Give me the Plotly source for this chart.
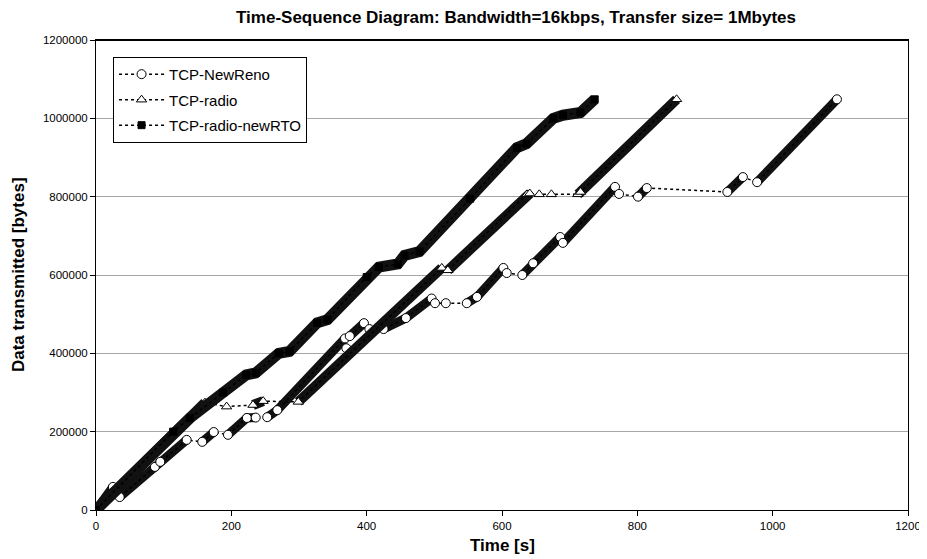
import plotly.graph_objects as go

# values (time in s, data in bytes)
# dense = 1 where the packets form a continuous run up to the next point
newreno_t = [0, 25, 35, 87, 95, 134, 157, 174, 195, 223, 236, 253, 268, 368, 370, 375, 396, 404,
             425, 458, 496, 501, 517, 548, 563, 602, 607, 630, 646, 686, 690, 767, 773, 801, 814,
             933, 956, 977, 1095]
newreno_b = [0, 59000, 33000, 110000, 123000, 179000, 174000, 199000, 192000, 235000, 236000,
             237000, 255000, 438000, 413000, 444000, 477000, 462000, 462000, 490000, 540000,
             528000, 528000, 528000, 544000, 618000, 605000, 600000, 630000, 697000, 682000,
             825000, 807000, 800000, 822000, 812000, 850000, 837000, 1048576]
newreno_dense = [1, 0, 1, 1, 1, 0, 1, 0, 1, 1, 0, 1, 1, 0, 0, 1, 0, 0,
                 1, 1, 0, 0, 0, 1, 1, 0, 0, 1, 1, 0, 1, 0, 0, 1, 0,
                 1, 0, 1]

radio_t = [0, 161, 193, 232, 247, 299, 511, 520, 637, 641, 655, 673, 712, 716, 858]
radio_b = [0, 274000, 264000, 268000, 278000, 276000, 618000, 612000, 806000, 808000, 806000,
           806000, 806000, 812000, 1048576]
radio_dense = [1, 0, 0, 1, 0, 1, 0, 1, 1, 0, 0, 0, 1, 1]

newrto_t = [0, 114, 139, 188, 222, 236, 270, 286, 327, 342, 400, 418, 446, 456, 478, 553, 622,
            636, 676, 690, 716, 737]
newrto_b = [0, 200000, 235000, 300000, 345000, 350000, 400000, 405000, 478000, 486000, 595000,
            620000, 628000, 650000, 660000, 795000, 925000, 935000, 1000000, 1008000, 1015000,
            1048576]
newrto_dense = [1] * (len(newrto_t) - 1)

FONT = "Liberation Sans, Arial, sans-serif"


def runs(t, b, dense):
    # keep only the stretches where packets are sent back to back
    xs, ys = [], []
    for i in range(len(t) - 1):
        if dense[i]:
            if not xs or xs[-1] is None or xs[-1] != t[i]:
                xs.append(t[i])
                ys.append(b[i])
            xs.append(t[i + 1])
            ys.append(b[i + 1])
        elif xs and xs[-1] is not None:
            xs.append(None)
            ys.append(None)
    return xs, ys


series = [
    ("TCP-NewReno", newreno_t, newreno_b, newreno_dense, 9,
     dict(symbol="circle", size=9, color="white", line=dict(color="black", width=1))),
    ("TCP-radio", radio_t, radio_b, radio_dense, 10,
     dict(symbol="triangle-up", size=9, color="white", line=dict(color="black", width=1))),
    ("TCP-radio-newRTO", newrto_t, newrto_b, newrto_dense, 11,
     dict(symbol="square", size=7, color="black", line=dict(color="black", width=1))),
]

fig = go.Figure()
for name, t, b, dense, bw, mk in series:
    bx, by = runs(t, b, dense)
    fig.add_trace(go.Scatter(x=bx, y=by, mode="lines", legendgroup=name, showlegend=False,
                             line=dict(color="#111111", width=bw), hoverinfo="skip"))
    fig.add_trace(go.Scatter(x=t, y=b, mode="lines+markers", name=name, legendgroup=name,
                             line=dict(color="black", width=1.5, dash="3px,3px"),
                             marker=mk))

# the page body adds 8px of margin, so the margins are 8px smaller on top/left
fig.update_layout(
    width=927, height=559,
    margin=dict(l=88, r=27, t=32, b=57),
    paper_bgcolor="white", plot_bgcolor="white",
    font=dict(family=FONT, size=11.5, color="black"),
    title=dict(text="<b>Time-Sequence Diagram: Bandwidth=16kbps, Transfer size= 1Mbytes</b>",
               x=508 / 927, xref="container", xanchor="center",
               y=1 - 9 / 559, yanchor="middle", font=dict(size=17)),
    legend=dict(x=0.021, y=0.964, xanchor="left", yanchor="top",
                bgcolor="white", bordercolor="black", borderwidth=1,
                font=dict(size=15), traceorder="grouped", tracegroupgap=3,
                itemwidth=45),
    showlegend=True,
)
fig.update_xaxes(range=[0, 1200], dtick=200, showgrid=False, zeroline=False,
                 showline=True, linecolor="black", linewidth=1, mirror=True,
                 ticks="outside", ticklen=5, tickcolor="black")
fig.update_yaxes(range=[0, 1200000], dtick=200000, tickformat="d", showgrid=True,
                 gridcolor="#a6a6a6", gridwidth=1, zeroline=False,
                 showline=True, linecolor="black", linewidth=1, mirror=True,
                 ticks="outside", ticklen=5, tickcolor="black")
fig.add_shape(type="line", xref="paper", yref="paper", x0=0, x1=1, y0=1, y1=1,
              line=dict(color="black", width=2))

fig.add_annotation(text="<b>Data transmitted [bytes]</b>", xref="paper", yref="paper",
                   x=-0.096, y=0.5, xanchor="center", yanchor="middle",
                   textangle=-90, showarrow=False, font=dict(size=17))
fig.add_annotation(text="<b>Time [s]</b>", xref="paper", yref="paper",
                   x=0.5, y=-0.0745, xanchor="center", yanchor="middle",
                   showarrow=False, font=dict(size=17))

fig.write_html("out.html")
